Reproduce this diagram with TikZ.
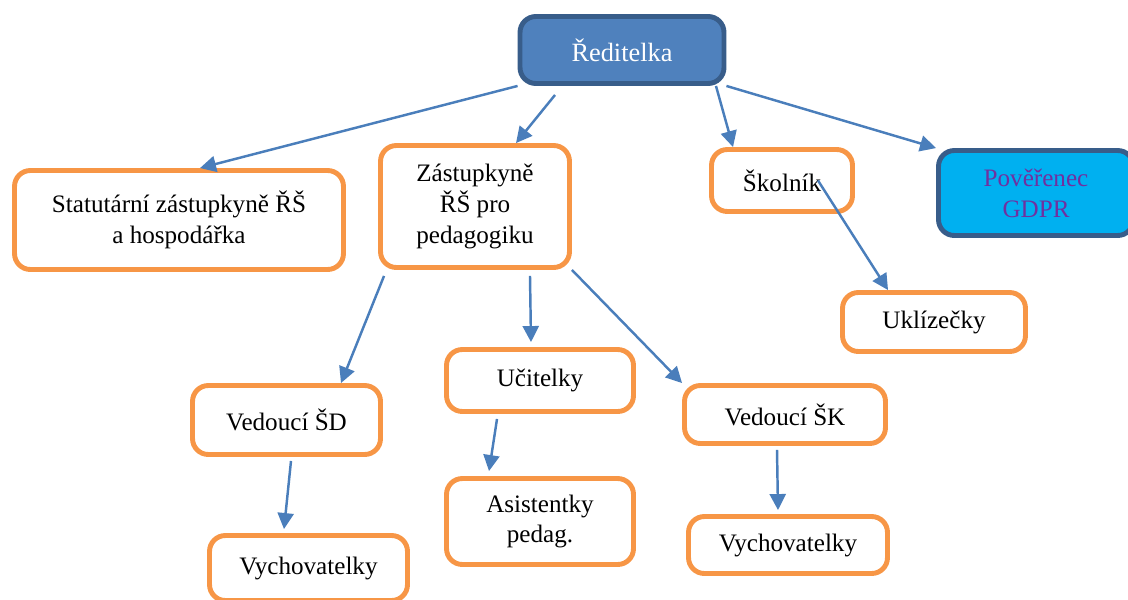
\documentclass[tikz,border=0pt]{standalone}
\usepackage{fontspec}
\setmainfont{Liberation Serif}
\usetikzlibrary{arrows.meta}
\definecolor{boxorange}{HTML}{F79646}
\definecolor{headblue}{HTML}{4F81BD}
\definecolor{headline}{HTML}{385D8A}
\definecolor{gdprcyan}{HTML}{00B0F0}
\definecolor{gdprtext}{HTML}{7030A0}
\definecolor{arrowblue}{HTML}{4A7EBB}
\tikzset{
  box/.style={draw=boxorange,line width=2.8pt,rounded corners=9pt,fill=white,
    align=center,inner sep=2pt,font=\fontsize{14.3}{17.6}\selectfont},
  headbox/.style={box,draw=headline,fill=headblue,text=white},
  link/.style={draw=arrowblue,line width=1.4pt,-{Triangle[length=0.32cm,width=0.32cm]}}
}
\begin{document}
\begin{tikzpicture}[x=0.02cm,y=-0.02cm]
        \useasboundingbox (0,0) rectangle (1128,599);
        \node[headbox,minimum width=4.08cm,minimum height=1.34cm,font=\fontsize{15}{18}\selectfont] (red) at (622,50) {Ředitelka};
        \node[box,minimum width=6.58cm,minimum height=1.98cm] (stat) at (179,220) {Statutární zástupkyně ŘŠ\\a hospodářka};
        \node[box,minimum width=3.78cm,minimum height=2.44cm] (zast) at (475,206.5) {Zástupkyně\\ŘŠ pro\\pedagogiku};
        \node[box,minimum width=2.82cm,minimum height=1.24cm] (skol) at (782,180.5) {Školník};
        \node[headbox,fill=gdprcyan,text=gdprtext,minimum width=3.9cm,minimum height=1.7cm] (gdpr) at (1036,193) {Pověřenec\\GDPR};
        \node[box,minimum width=3.66cm,minimum height=1.18cm] (ukl) at (934,322) {Uklízečky};
        \node[box,minimum width=3.76cm,minimum height=1.38cm] (vsd) at (286.5,420) {Vedoucí ŠD};
        \node[box,minimum width=3.74cm,minimum height=1.24cm] (uc) at (540,380.5) {Učitelky};
        \node[box,minimum width=4.02cm,minimum height=1.16cm] (vsk) at (785,414.5) {Vedoucí ŠK};
        \node[box,minimum width=3.74cm,minimum height=1.72cm] (asi) at (540,521.5) {Asistentky\\pedag.};
        \node[box,minimum width=3.96cm,minimum height=1.3cm] (vyl) at (308.5,568) {Vychovatelky};
        \node[box,minimum width=3.98cm,minimum height=1.14cm] (vyr) at (788,545) {Vychovatelky};
        \draw[link] (red.south west) -- ([xshift=0.42cm]stat.north);
        \draw[link] ([xshift=-1.34cm,yshift=-0.18cm]red.south) -- ([xshift=0.82cm]zast.north);
        \draw[link] ([xshift=1.88cm]red.south) -- ([xshift=-0.98cm]skol.north);
        \draw[link] (red.south east) -- (gdpr.north west);
        \draw[link] ([xshift=0.72cm]skol.center) -- ([xshift=-0.92cm]ukl.north);
        \draw[link] ([xshift=-1.82cm,yshift=-0.12cm]zast.south) -- ([xshift=1.09cm]vsd.north);
        \draw[link] ([xshift=1.1cm,yshift=-0.12cm]zast.south) -- ([xshift=-0.18cm,yshift=0.1cm]uc.north);
        \draw[link] (zast.south east) -- (vsk.north west);
        \draw[link] ([xshift=-0.86cm,yshift=-0.1cm]uc.south) -- ([xshift=-1.02cm,yshift=0.1cm]asi.north);
        \draw[link] ([xshift=0.09cm,yshift=-0.08cm]vsd.south) -- ([xshift=-0.49cm,yshift=0.08cm]vyl.north);
        \draw[link] ([xshift=-0.16cm,yshift=-0.08cm]vsk.south) -- ([xshift=-0.2cm,yshift=0.08cm]vyr.north);
      \end{tikzpicture}
\end{document}
